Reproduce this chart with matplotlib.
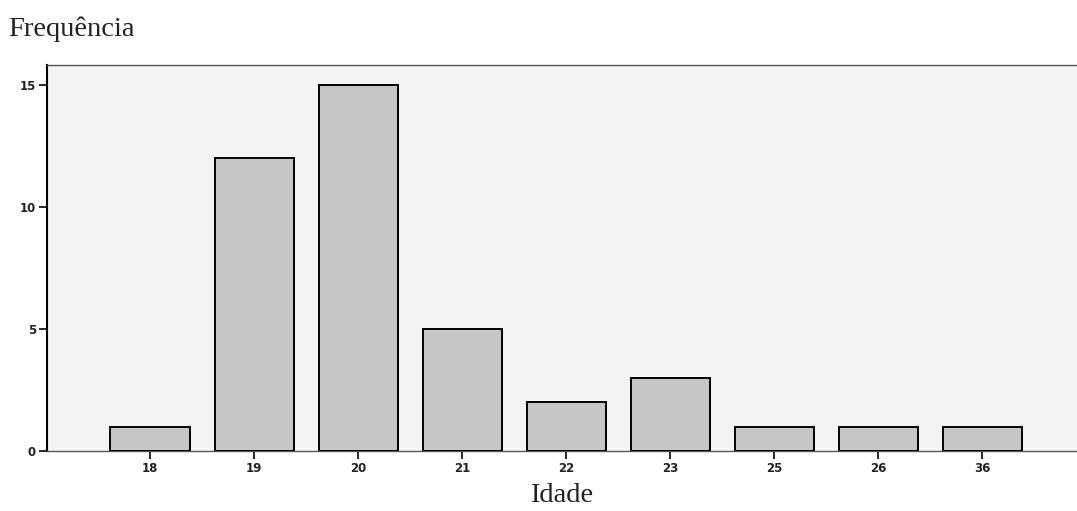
import matplotlib
matplotlib.use("Agg")
import matplotlib.pyplot as plt

ages = ["18", "19", "20", "21", "22", "23", "25", "26", "36"]
counts = [1, 12, 15, 5, 2, 3, 1, 1, 1]
yticks = [0, 5, 10, 15]

fig = plt.figure(figsize=(10.77, 5.11), dpi=100)
ax = fig.add_axes([47/1077, 1 - 451/511, (1077-47)/1077, (451-65)/511])
ax.set_facecolor("#f3f3f3")
x = list(range(len(ages)))
ax.bar(x, counts, width=0.76, color="#c6c6c6", edgecolor="black", linewidth=1.4, zorder=3)
ax.set_xlim(-0.99, 8.91)
ax.set_ylim(0, 15.82)
ax.set_xticks(x)
ax.set_xticklabels(ages, fontsize=8.5, family="DejaVu Sans", fontweight="bold", color="#222222")
ax.set_yticks(yticks)
ax.set_yticklabels([str(v) for v in yticks], fontsize=8.5, family="DejaVu Sans", fontweight="bold", color="#222222")
ax.tick_params(axis="both", direction="out", length=6, width=1.2, color="black", pad=2)
ax.spines["right"].set_visible(False)
ax.spines["left"].set_linewidth(1.5)
ax.spines["left"].set_color("black")
ax.spines["top"].set_color("#555555")
ax.spines["top"].set_linewidth(1.0)
ax.spines["bottom"].set_color("#555555")
ax.spines["bottom"].set_linewidth(1.0)

fig.text(8/1077, 1 - 29/511, "Frequência", fontsize=20.5, family="Liberation Serif", va="center", ha="left", color="#222222")
fig.text(562/1077, 1 - 496/511, "Idade", fontsize=20.5, family="Liberation Serif", va="center", ha="center", color="#222222")

fig.savefig("out.png", dpi=100)
